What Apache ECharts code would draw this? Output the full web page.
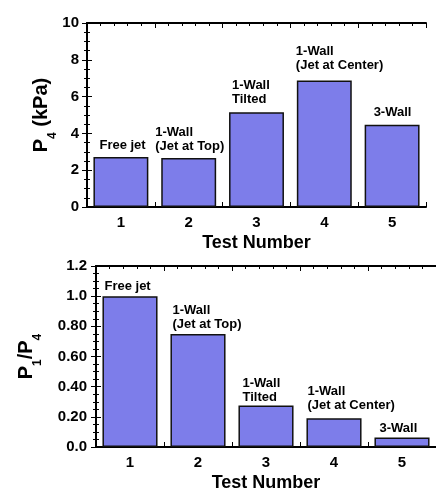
<!DOCTYPE html>
<html>
<head>
<meta charset="utf-8">
<script src="https://cdn.jsdelivr.net/npm/echarts@6/dist/echarts.min.js"></script>
<style>
  html, body { margin: 0; padding: 0; background: #ffffff; }
  #chart { width: 436px; height: 493px; }
</style>
</head>
<body>
<div id="chart"></div>
<script>
// ---- data ----
const testNumbers = ['1', '2', '3', '4', '5'];
const configNames = ['Free jet', '1-Wall\n(Jet at Top)', '1-Wall\nTilted', '1-Wall\n(Jet at Center)', '3-Wall'];
const p4Values = [2.72, 2.66, 5.15, 6.88, 4.47];          // P4 in kPa
const ratioValues = [1.0, 0.75, 0.275, 0.19, 0.063];      // P1 / P4
const ratioTickLabels = ['0.0', '0.20', '0.40', '0.60', '0.80', '1.0', '1.2'];

// ---- styling ----
const FONT = "'Liberation Sans', Arial, Helvetica, sans-serif";
const BAR_FILL = '#7d7dea';
const INK = '#000000';
// label placement relative to each bar's top-left corner
const topLabelNudge = [[6, -5], [-6, -5], [3, -6], [-1, -8], [9, -5]];
const bottomLabelNudge = [[2, -3], [2, -2], [4, -1], [1, -6], [5, -2]];

const chart = echarts.init(document.getElementById('chart'), null, { renderer: 'canvas' });

function tickAxis(gridIndex, position, showLine) {
  return {
    type: 'value', gridIndex: gridIndex, position: position,
    min: 0, max: 5, interval: 1,
    axisLine: { show: showLine, lineStyle: { color: INK, width: 2 } },
    axisTick: { show: true, inside: true, length: 5, lineStyle: { color: INK, width: 1 } },
    minorTick: { show: true, splitNumber: 5, length: 3, lineStyle: { color: INK, width: 1 } },
    axisLabel: { show: false }, splitLine: { show: false }, minorSplitLine: { show: false }
  };
}

function categoryAxis(gridIndex) {
  return {
    type: 'category', gridIndex: gridIndex, data: testNumbers, position: 'bottom',
    axisLine: { show: true, lineStyle: { color: INK, width: 2 } },
    axisTick: { show: false },
    axisLabel: { color: INK, fontFamily: FONT, fontWeight: 'bold', fontSize: 15, margin: 8 },
    name: 'Test Number', nameLocation: 'middle', nameGap: 27,
    nameTextStyle: { color: INK, fontFamily: FONT, fontWeight: 'bold', fontSize: 18 }
  };
}

// axis titles with subscripts
const nameRich = {
  m: { fontFamily: FONT, fontWeight: 'bold', fontSize: 20, lineHeight: 20, verticalAlign: 'top', color: INK },
  s: { fontFamily: FONT, fontWeight: 'bold', fontSize: 12, lineHeight: 44, color: INK }
};

function valueAxis(gridIndex, position, max, interval, showLabels, extra) {
  return Object.assign({
    type: 'value', gridIndex: gridIndex, position: position,
    min: 0, max: max, interval: interval,
    axisLine: { show: true, lineStyle: { color: INK, width: 2 } },
    axisTick: { show: true, inside: true, length: 5, lineStyle: { color: INK, width: 1 } },
    minorTick: { show: true, splitNumber: 4, length: 3, lineStyle: { color: INK, width: 1 } },
    axisLabel: { show: showLabels, color: INK, fontFamily: FONT, fontWeight: 'bold', fontSize: 15, margin: 8 },
    splitLine: { show: false }, minorSplitLine: { show: false }
  }, extra || {});
}

function barData(values, nudges) {
  return values.map(function (v, i) {
    return {
      value: v,
      label: {
        show: true, formatter: configNames[i],
        position: nudges[i], align: 'left', verticalAlign: 'bottom',
        color: INK, fontFamily: FONT, fontWeight: 'bold', fontSize: 13, lineHeight: 14
      }
    };
  });
}

const option = {
  animation: false,
  backgroundColor: '#ffffff',
  grid: [
    { left: 87, top: 23, right: 10, height: 184 },
    { left: 96, top: 266, right: -7, height: 186 }
  ],
  xAxis: [
    categoryAxis(0),
    tickAxis(0, 'bottom', false),
    tickAxis(0, 'top', true),
    categoryAxis(1),
    tickAxis(1, 'bottom', false),
    tickAxis(1, 'top', true)
  ],
  yAxis: [
    valueAxis(0, 'left', 10, 2, true, {
      name: '{m|P}{s|4}{m| (kPa)}', nameLocation: 'middle', nameGap: 12,
      nameMoveOverlap: false,
      nameTextStyle: { rich: nameRich }
    }),
    valueAxis(0, 'right', 10, 2, false),
    valueAxis(1, 'left', 1.2, 0.2, true, {
      name: '{m|P}{s|1}{m|/P}{s|4}', nameLocation: 'middle', nameGap: 36,
      nameMoveOverlap: false,
      nameTextStyle: { rich: nameRich },
      axisLabel: {
        show: true, color: INK, fontFamily: FONT, fontWeight: 'bold', fontSize: 15, margin: 9,
        formatter: function (v) { return ratioTickLabels[Math.round(v / 0.2)]; }
      }
    }),
    valueAxis(1, 'right', 1.2, 0.2, false)
  ],
  series: [
    {
      type: 'bar', xAxisIndex: 0, yAxisIndex: 0,
      data: barData(p4Values, topLabelNudge),
      barCategoryGap: '19%',
      itemStyle: { color: BAR_FILL, borderColor: '#111111', borderWidth: 1.5 }
    },
    {
      type: 'bar', xAxisIndex: 3, yAxisIndex: 2,
      data: barData(ratioValues, bottomLabelNudge),
      barCategoryGap: '19%',
      itemStyle: { color: BAR_FILL, borderColor: '#111111', borderWidth: 1.5 }
    }
  ]
};

chart.setOption(option);
</script>
</body>
</html>
